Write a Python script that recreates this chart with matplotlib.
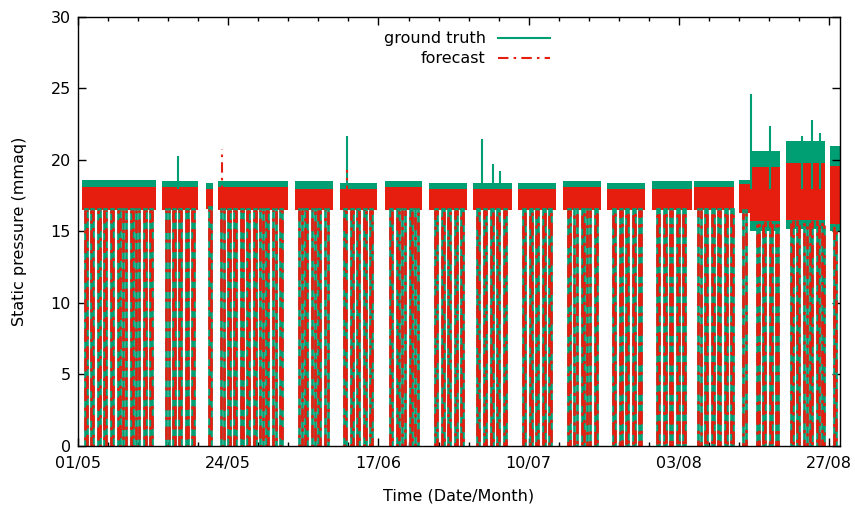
import numpy as np
import matplotlib
matplotlib.use('Agg')
import matplotlib.pyplot as plt
from matplotlib.ticker import MultipleLocator, FixedLocator
from matplotlib.lines import Line2D

# time axis in days since 01/05 00:00
# stretches where the logger has data (weekly pattern, gaps = no data)
block_start = [0.6, 12.9, 19.7, 21.6, 33.4, 40.4, 47.3, 54.1, 60.9, 67.8,
               74.7, 81.5, 88.4, 94.9, 101.8, 103.6, 109.1, 115.9]
block_end = [12.0, 18.5, 20.8, 32.4, 39.3, 46.1, 53.0, 59.9, 66.9, 73.7,
             80.6, 87.4, 94.6, 101.1, 103.6, 108.2, 115.1, 117.4]

# noise band of each series inside each stretch (mmaq)
gt_lo = [16.6, 16.6, 16.7, 16.6, 16.6, 16.6, 16.6, 16.6, 16.6, 16.6,
         16.6, 16.6, 16.6, 16.6, 16.5, 15.0, 15.2, 15.0]
gt_hi = [18.6, 18.5, 18.4, 18.5, 18.5, 18.4, 18.5, 18.4, 18.4, 18.4,
         18.5, 18.4, 18.5, 18.5, 18.6, 20.6, 21.3, 21.0]
fc_lo = [16.5, 16.5, 16.6, 16.5, 16.5, 16.5, 16.5, 16.5, 16.5, 16.5,
         16.5, 16.5, 16.5, 16.5, 16.3, 15.7, 15.8, 15.5]
fc_hi = [18.1, 18.1, 18.0, 18.1, 18.0, 18.0, 18.1, 18.0, 18.0, 18.0,
         18.1, 18.0, 18.0, 18.1, 18.3, 19.5, 19.8, 19.6]

# nightly shut-downs (pressure falls to 0)
drop_days = [1.1, 2.0, 3.1, 4.0, 5.1, 6.1, 7.0, 8.1, 9.0, 10.1, 11.1,
             13.6, 14.6, 15.5, 16.6, 17.6,
             20.2,
             22.1, 23.1, 24.0, 25.1, 26.0, 27.1, 28.1, 29.0, 30.1, 31.1,
             34.1, 35.0, 36.1, 37.0, 38.1,
             41.0, 42.1, 43.0, 44.1, 45.0,
             48.0, 49.1, 50.0, 51.1, 52.0,
             55.0, 56.1, 57.0, 58.1, 59.0,
             61.5, 62.5, 63.6, 64.5, 65.6,
             68.5, 69.6, 70.5, 71.6, 72.5,
             75.5, 76.5, 77.6, 78.5, 79.6,
             82.4, 83.5, 84.4, 85.5, 86.4,
             89.2, 90.3, 91.2, 92.3, 93.2,
             95.6, 96.6, 97.7, 98.6, 99.7, 100.6,
             102.5, 104.6, 105.5, 106.6, 107.5,
             109.8, 110.8, 111.9, 112.8, 113.8, 114.6,
             116.5]
off_days = 0.35

# isolated peaks
gt_spike_day = [15.4, 41.4, 62.2, 64.0, 65.0, 103.7, 106.6, 111.6, 113.1, 114.3]
gt_spike_val = [20.3, 21.7, 21.5, 19.7, 19.2, 24.6, 22.4, 21.7, 22.8, 21.9]
fc_spike_day = [22.2, 41.4]
fc_spike_val = [20.8, 19.3]

tick_days = [0.0, 23.15, 46.3, 69.45, 92.6, 115.75]
tick_labels = ['01/05', '24/05', '17/06', '10/07', '03/08', '27/08']

GREEN = '#009e73'
RED = '#e51e10'
DASH = (5, 2.5, 1.2, 2.5)
dashdot = (0, DASH)


def drop_segments(lo):
    # one path per shut-down: down, along zero, back up
    idx = np.searchsorted(block_start, drop_days) - 1
    for t, i in zip(drop_days, idx):
        yield [t, t, t + off_days, t + off_days], [lo[i], 0, 0, lo[i]]


plt.rcParams['font.family'] = 'DejaVu Sans'
fig = plt.figure(figsize=(8.55, 5.16), dpi=100)
ax = fig.add_axes([0.0912, 0.1357, 0.8912, 0.8314])

# ground truth
for s, e, lo, hi in zip(block_start, block_end, gt_lo, gt_hi):
    ax.fill_between([s, e], lo, hi, color=GREEN, lw=0)
ax.vlines(gt_spike_day, 18.0, gt_spike_val, color=GREEN, lw=1.5)
for xs, ys in drop_segments(gt_lo):
    ax.plot(xs, ys, color=GREEN, lw=1.9)

# forecast
for s, e, lo, hi in zip(block_start, block_end, fc_lo, fc_hi):
    ax.fill_between([s, e], lo, hi, color=RED, lw=0)
ax.vlines(fc_spike_day, 17.5, fc_spike_val, color=RED, lw=1.5, linestyles=dashdot)
for k, (xs, ys) in enumerate(drop_segments(fc_lo)):
    ax.plot(xs, ys, color=RED, lw=1.9, linestyle=((k * 3.7) % 11, DASH))

ax.set_xlim(0, 117.4)
ax.set_ylim(0, 30)
ax.xaxis.set_major_locator(FixedLocator(tick_days))
ax.set_xticklabels(tick_labels)
ax.xaxis.set_minor_locator(MultipleLocator(23.15 / 5))
ax.yaxis.set_major_locator(MultipleLocator(5))
ax.tick_params(which='both', direction='in', top=True, right=True, labelsize=11.5)
ax.tick_params(which='major', length=6, width=1)
ax.tick_params(which='minor', length=3, width=1)
ax.tick_params(axis='x', pad=7)
ax.tick_params(axis='y', pad=5)
for sp in ax.spines.values():
    sp.set_linewidth(1.0)

ax.set_xlabel('Time (Date/Month)', fontsize=11.5, labelpad=13)
ax.set_ylabel('Static pressure (mmaq)', fontsize=11.5, labelpad=17)

handles = [Line2D([], [], color=GREEN, lw=1.5),
           Line2D([], [], color=RED, lw=1.5, linestyle=dashdot)]
ax.legend(handles, ['ground truth', 'forecast'], loc='upper center',
          bbox_to_anchor=(0.51, 1.0), frameon=False, markerfirst=False,
          handlelength=3.2, fontsize=11.5, labelspacing=0.3)

fig.savefig('out.png', dpi=100)
